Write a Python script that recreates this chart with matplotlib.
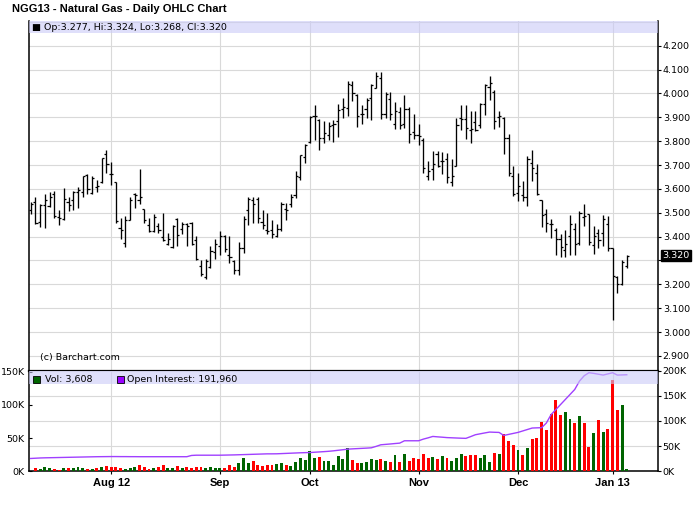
"""
NGG13 natural gas daily OHLC chart with volume / open interest panel.
Saves out.png (700x512).
"""

import numpy as np
import matplotlib
matplotlib.use("Agg")
import matplotlib.pyplot as plt
from matplotlib.patches import Rectangle

TITLE = "NGG13 - Natural Gas - Daily OHLC Chart"

# one entry per trading day (Jul 9 2012 .. Jan 7 2013)
opens = [3.510, 3.545, 3.461, 3.531, 3.527, 3.577, 3.482, 3.475, 3.546, 3.552,
         3.587, 3.585, 3.659, 3.582, 3.608, 3.627, 3.747, 3.663, 3.630, 3.437,
         3.373, 3.468, 3.580, 3.552, 3.517, 3.450, 3.422, 3.444, 3.398, 3.370,
         3.356, 3.472, 3.430, 3.453, 3.457, 3.387, 3.275, 3.230, 3.272, 3.335,
         3.359, 3.401, 3.324, 3.297, 3.258, 3.353, 3.510, 3.554, 3.559, 3.461,
         3.426, 3.429, 3.404, 3.433, 3.517, 3.535, 3.575, 3.649, 3.733, 3.796,
         3.904, 3.890, 3.814, 3.827, 3.866, 3.883, 3.936, 3.939, 4.034, 3.992,
         3.912, 3.936, 3.982, 4.022, 4.066, 3.915, 3.978, 3.873, 3.922, 3.873,
         3.936, 3.838, 3.828, 3.806, 3.656, 3.684, 3.747, 3.719, 3.726, 3.628,
         3.698, 3.898, 3.891, 3.845, 3.880, 3.866, 3.957, 4.027, 4.006, 3.901,
         3.898, 3.814, 3.656, 3.582, 3.573, 3.566, 3.708, 3.668, 3.554, 3.493,
         3.454, 3.426, 3.390, 3.342, 3.401, 3.433, 3.373, 3.482, 3.493, 3.366,
         3.415, 3.415, 3.454, 3.352, 3.230, 3.203, 3.277]
highs = [3.547, 3.568, 3.535, 3.577, 3.585, 3.592, 3.510, 3.602, 3.568, 3.592,
         3.610, 3.656, 3.663, 3.656, 3.638, 3.730, 3.765, 3.714, 3.630, 3.479,
         3.487, 3.566, 3.581, 3.682, 3.517, 3.476, 3.496, 3.459, 3.500, 3.416,
         3.447, 3.478, 3.462, 3.459, 3.462, 3.401, 3.300, 3.307, 3.359, 3.388,
         3.425, 3.405, 3.401, 3.300, 3.376, 3.485, 3.566, 3.568, 3.568, 3.510,
         3.501, 3.468, 3.451, 3.547, 3.541, 3.580, 3.673, 3.744, 3.789, 3.904,
         3.950, 3.894, 3.883, 3.880, 3.887, 3.954, 3.980, 4.054, 4.054, 3.999,
         3.950, 3.980, 4.040, 4.092, 4.092, 4.006, 4.006, 3.966, 3.943, 3.992,
         3.943, 3.912, 3.874, 3.814, 3.719, 3.757, 3.757, 3.753, 3.751, 3.726,
         3.898, 3.950, 3.953, 3.926, 3.925, 3.961, 4.040, 4.075, 4.013, 3.925,
         3.901, 3.831, 3.698, 3.668, 3.635, 3.737, 3.765, 3.705, 3.554, 3.517,
         3.473, 3.437, 3.409, 3.426, 3.490, 3.457, 3.507, 3.535, 3.493, 3.443,
         3.430, 3.489, 3.486, 3.352, 3.237, 3.300, 3.324]
lows = [3.496, 3.454, 3.440, 3.436, 3.524, 3.479, 3.448, 3.471, 3.507, 3.513,
        3.521, 3.566, 3.577, 3.580, 3.585, 3.624, 3.666, 3.615, 3.459, 3.390,
        3.356, 3.468, 3.521, 3.535, 3.457, 3.419, 3.419, 3.416, 3.380, 3.363,
        3.351, 3.360, 3.412, 3.360, 3.366, 3.300, 3.237, 3.223, 3.270, 3.307,
        3.324, 3.334, 3.289, 3.244, 3.239, 3.331, 3.447, 3.459, 3.457, 3.430,
        3.412, 3.394, 3.398, 3.422, 3.468, 3.524, 3.561, 3.638, 3.709, 3.793,
        3.806, 3.764, 3.792, 3.803, 3.796, 3.817, 3.898, 3.904, 3.968, 3.859,
        3.873, 3.898, 3.890, 4.022, 3.892, 3.897, 3.890, 3.852, 3.852, 3.856,
        3.792, 3.810, 3.785, 3.666, 3.638, 3.638, 3.691, 3.663, 3.624, 3.613,
        3.696, 3.845, 3.809, 3.793, 3.841, 3.856, 3.908, 3.971, 3.852, 3.859,
        3.747, 3.656, 3.570, 3.549, 3.549, 3.528, 3.633, 3.573, 3.440, 3.419,
        3.394, 3.324, 3.314, 3.314, 3.324, 3.324, 3.363, 3.443, 3.363, 3.328,
        3.353, 3.360, 3.339, 3.052, 3.165, 3.198, 3.268]
closes = [3.538, 3.457, 3.534, 3.554, 3.566, 3.486, 3.479, 3.559, 3.531, 3.585,
          3.594, 3.654, 3.601, 3.647, 3.612, 3.728, 3.703, 3.663, 3.464, 3.426,
          3.468, 3.552, 3.573, 3.566, 3.468, 3.423, 3.483, 3.426, 3.387, 3.391,
          3.444, 3.408, 3.451, 3.444, 3.370, 3.307, 3.242, 3.297, 3.339, 3.367,
          3.401, 3.349, 3.314, 3.258, 3.353, 3.472, 3.559, 3.535, 3.479, 3.447,
          3.423, 3.412, 3.433, 3.538, 3.513, 3.568, 3.656, 3.740, 3.782, 3.901,
          3.906, 3.814, 3.834, 3.862, 3.870, 3.932, 3.943, 4.040, 4.003, 3.905,
          3.915, 3.971, 4.034, 4.075, 3.915, 3.999, 3.912, 3.926, 3.866, 3.936,
          3.831, 3.825, 3.820, 3.689, 3.677, 3.703, 3.697, 3.716, 3.649, 3.656,
          3.866, 3.891, 3.856, 3.851, 3.845, 3.957, 4.034, 4.043, 3.883, 3.904,
          3.814, 3.666, 3.580, 3.612, 3.568, 3.726, 3.689, 3.577, 3.492, 3.457,
          3.451, 3.390, 3.356, 3.367, 3.454, 3.370, 3.499, 3.485, 3.377, 3.401,
          3.387, 3.472, 3.353, 3.233, 3.200, 3.293, 3.320]

# volume in thousands of contracts (first day has no bar)
volume_k = [np.nan, 5, 3.5, 6.5, 5, 3.5, 2, 5, 5, 5,
            6.5, 5, 3.5, 3.5, 5, 6.5, 8, 6.5, 6.5, 5,
            3.5, 5, 6.5, 9.5, 6.5, 3.5, 5, 6.5, 9.5, 5,
            5, 8, 5, 6.5, 5, 6.5, 6.5, 5, 6.5, 5,
            5, 5, 9.5, 6.5, 12.6, 20, 12.6, 15.7, 9.6, 7.6,
            9.6, 9.6, 11, 12.6, 9.6, 8, 14, 20, 17, 30.8,
            20, 21.7, 15.7, 15.7, 9.6, 23, 18.7, 35.4, 17, 12.6,
            12.6, 14, 18.7, 17, 18.7, 15.7, 14, 24.7, 14, 26.3,
            15.7, 20, 18.7, 26.3, 20, 21.7, 18.7, 23, 20.2, 15.7,
            20.2, 26.3, 23.2, 24.7, 24.7, 20.2, 24.7, 14.1, 27.8, 26.3,
            56.6, 46, 40, 32.3, 24.7, 35.4, 49, 50.5, 74, 62,
            86, 107, 84.5, 89, 78.5, 72.5, 83, 72.5, 36.5, 57.5,
            77, 59, 63.5, 137, 92, 99.5, 3.608]
# 1 = up day (green volume bar), 0 = down day (red)
vol_up = [0, 0, 1, 1, 1, 0, 0, 1, 0, 1,
          1, 1, 0, 1, 0, 1, 0, 0, 0, 0,
          1, 1, 1, 0, 0, 0, 1, 0, 0, 1,
          1, 0, 1, 0, 0, 0, 0, 1, 1, 1,
          1, 0, 0, 0, 1, 1, 1, 0, 0, 0,
          0, 0, 1, 1, 0, 1, 1, 1, 1, 1,
          1, 0, 1, 1, 1, 1, 1, 1, 0, 0,
          1, 1, 1, 1, 0, 1, 0, 1, 0, 1,
          0, 0, 0, 0, 0, 1, 0, 1, 0, 1,
          1, 1, 0, 0, 0, 1, 1, 1, 0, 1,
          0, 0, 0, 1, 0, 1, 0, 0, 0, 0,
          0, 0, 0, 1, 1, 0, 1, 0, 0, 1,
          0, 1, 0, 0, 0, 1, 1]
# open interest in thousands
open_interest_k = [25.5, 26.0, 26.5, 26.8, 27.0, 27.2, 27.4, 27.6, 27.8, 28.0,
                   28.2, 28.4, 28.6, 28.8, 29.0, 29.1, 29.2, 29.3, 29.3, 29.2,
                   29.2, 29.1, 29.1, 29.0, 29.0, 29.0, 29.0, 29.0, 29.0, 29.0,
                   29.0, 29.0, 29.0, 29.0, 31.5, 32.0, 32.0, 32.0, 32.0, 32.0,
                   32.0, 32.2, 32.4, 32.6, 32.9, 33.2, 33.5, 33.8, 34.1, 34.4,
                   34.7, 34.7, 34.8, 35.2, 35.6, 36.0, 36.4, 36.8, 37.1, 37.3,
                   37.9, 38.5, 39.1, 39.8, 40.7, 41.8, 42.9, 44.0, 44.6, 45.1,
                   45.6, 46.1, 46.7, 49.5, 52.7, 53.5, 54.3, 55.2, 56.0, 60.7,
                   60.7, 60.7, 60.7, 64.0, 66.5, 69.3, 68.5, 67.8, 67.0, 66.6,
                   66.2, 65.8, 65.5, 69.0, 72.7, 74.5, 76.3, 78.0, 77.6, 77.3,
                   71.3, 73.3, 75.3, 77.3, 80.2, 83.1, 86.0, 86.4, 86.7, 96.0,
                   112.7, 122.7, 132.7, 142.7, 152.7, 162.7, 179.3, 190.0, 196.0, 194.7,
                   193.0, 191.3, 193.6, 196.0, 191.3, 191.6, 191.96]

month_pos = [17, 40, 59, 82, 103, 123]
month_labels = ["Aug 12", "Sep", "Oct", "Nov", "Dec", "Jan 13"]
price_ticks = [2.9, 3.0, 3.1, 3.2, 3.3, 3.4, 3.5, 3.6, 3.7, 3.8, 3.9, 4.0, 4.1, 4.2]
vol_ticks_k = [0, 50, 100, 150]
oi_ticks_k = [0, 50, 100, 150, 200]

GRID = "#d9d9d9"
BAND = "#cbcbf7"
GREEN = "#006400"
RED = "#ff0000"
PURPLE = "#a040ff"
FS = 6.8

W, H = 700, 512


def rect(left, top, right, bottom):
    return [left / W, 1 - bottom / H, (right - left) / W, (bottom - top) / H]


def main():
    x = np.arange(len(closes))
    fig = plt.figure(figsize=(W / 100, H / 100), dpi=100)
    fig.text(12 / W, 1 - 9.5 / H, TITLE, fontsize=8, fontweight="bold",
             family=["Liberation Sans", "DejaVu Sans"], va="center")

    # ---------- price panel ----------
    ax = fig.add_axes(rect(29, 20.7, 658, 370.7))
    ax.vlines(x, lows, highs, color="black", lw=0.95)
    ax.hlines(opens, x - 0.45, x, color="black", lw=0.9)
    ax.hlines(closes, x, x + 0.45, color="black", lw=0.9)
    ax.set_xlim(-0.36, 132.6)
    ax.set_ylim(2.838, 4.305)
    ax.set_yticks(price_ticks)
    ax.set_yticklabels(["" if abs(t - 3.3) < 1e-9 else f"{t:.3f}" for t in price_ticks])
    ax.yaxis.tick_right()
    ax.tick_params(axis="y", direction="out", length=2.2, pad=1.2, labelsize=FS,
                   width=0.8)
    ax.axhline(4.3, color=GRID, lw=0.8, zorder=0)
    ax.set_xticks(month_pos)
    ax.tick_params(axis="x", bottom=False, labelbottom=False)
    ax.grid(True, color=GRID, lw=0.8)
    ax.set_axisbelow(True)
    ax.spines["top"].set_visible(False)
    ax.spines["left"].set_linewidth(1.1)
    ax.spines["right"].set_linewidth(1.1)
    ax.spines["bottom"].set_linewidth(1.6)

    band = (370.7 - 33.3) / 350
    ax.add_patch(Rectangle((0, band), 1, 1 - band, transform=ax.transAxes,
                           facecolor=BAND, alpha=0.6, lw=0, zorder=5))
    ax.text(0.004, 0.982,
            f"\u25a0 Op:{opens[-1]:.3f}, Hi:{highs[-1]:.3f}, "
            f"Lo:{lows[-1]:.3f}, Cl:{closes[-1]:.3f}",
            transform=ax.transAxes, fontsize=FS, va="center", zorder=6)
    ax.text(0.0175, 0.038, "(c) Barchart.com", transform=ax.transAxes,
            fontsize=FS, va="center")
    ax.annotate(f"{closes[-1]:.3f}", xy=(1, closes[-1]),
                xycoords=("axes fraction", "data"), xytext=(3.2, 0),
                textcoords="offset points", fontsize=FS, color="white",
                va="center", ha="left", annotation_clip=False, zorder=10,
                bbox=dict(boxstyle="square,pad=0.12", fc="black", ec="black"))

    # ---------- volume / open interest panel ----------
    pos = rect(29, 370.7, 658, 471.3)
    ax_oi = fig.add_axes(pos, sharex=ax)
    ax_v = fig.add_axes(pos, sharex=ax)
    ax_l = fig.add_axes(pos, sharex=ax, sharey=ax_oi)
    ax_oi.set_zorder(1)
    ax_v.set_zorder(2)
    ax_l.set_zorder(3)
    ax_v.patch.set_visible(False)
    ax_l.patch.set_visible(False)

    # grid + right (open interest) axis
    ax_oi.set_ylim(0, 200000)
    ax_oi.set_yticks([t * 1000 for t in oi_ticks_k])
    ax_oi.set_yticklabels([f"{t}K" for t in oi_ticks_k])
    ax_oi.yaxis.tick_right()
    ax_oi.tick_params(axis="y", direction="out", length=2.2, pad=1.2,
                      labelsize=FS, width=0.8)
    ax_oi.set_xticks(month_pos)
    ax_oi.set_xticklabels(month_labels)
    ax_oi.tick_params(axis="x", direction="out", length=2.2, pad=2.5, width=0.8)
    for lab in ax_oi.get_xticklabels():
        lab.set_fontweight("bold")
        lab.set_fontsize(8)
        lab.set_family(["Liberation Sans Narrow", "Liberation Sans", "DejaVu Sans"])
    ax_oi.grid(True, color=GRID, lw=0.8)
    ax_oi.spines["top"].set_visible(False)
    for s in ("left", "right", "bottom"):
        ax_oi.spines[s].set_linewidth(1.1)

    # volume bars, left axis
    colors = [GREEN if u else RED for u in vol_up]
    vol = np.array(volume_k, dtype=float) * 1000
    ax_v.bar(x, np.nan_to_num(vol), width=0.62, color=colors, lw=0)
    ax_v.set_ylim(0, 151500)
    ax_v.set_yticks([t * 1000 for t in vol_ticks_k])
    ax_v.set_yticklabels([f"{t}K" for t in vol_ticks_k])
    ax_v.tick_params(axis="y", direction="in", length=2.2, pad=3, labelsize=FS,
                     width=0.8)
    ax_v.tick_params(axis="x", bottom=False, labelbottom=False)
    for s in ax_v.spines.values():
        s.set_visible(False)

    # open interest line
    ax_l.plot(x, np.array(open_interest_k) * 1000, color=PURPLE, lw=1.0)
    ax_l.axis("off")
    band = (471.3 - 383.7) / 100.6
    ax_l.add_patch(Rectangle((0, band), 1, 1 - band, transform=ax_l.transAxes,
                             facecolor=BAND, alpha=0.6, lw=0, zorder=5))
    sq_w, sq_y, sq_h = 6.7 / 629, 0.881, 0.066
    ax_l.add_patch(Rectangle((0.0068, sq_y), sq_w, sq_h, transform=ax_l.transAxes,
                             facecolor=GREEN, edgecolor="black", lw=0.6, zorder=6,
                             clip_on=False))
    ax_l.text(0.0254, 0.9145, f"Vol: {volume_k[-1] * 1000:,.0f}",
              transform=ax_l.transAxes, fontsize=FS, va="center", zorder=6)
    ax_l.add_patch(Rectangle((0.1403, sq_y), sq_w, sq_h, transform=ax_l.transAxes,
                             facecolor="#9900ff", edgecolor="black", lw=0.6,
                             zorder=6, clip_on=False))
    ax_l.text(0.1563, 0.9145,
              f"Open Interest: {open_interest_k[-1] * 1000:,.0f}",
              transform=ax_l.transAxes, fontsize=FS, va="center", zorder=6)

    fig.savefig("out.png", dpi=100)
    plt.close(fig)


if __name__ == "__main__":
    main()
